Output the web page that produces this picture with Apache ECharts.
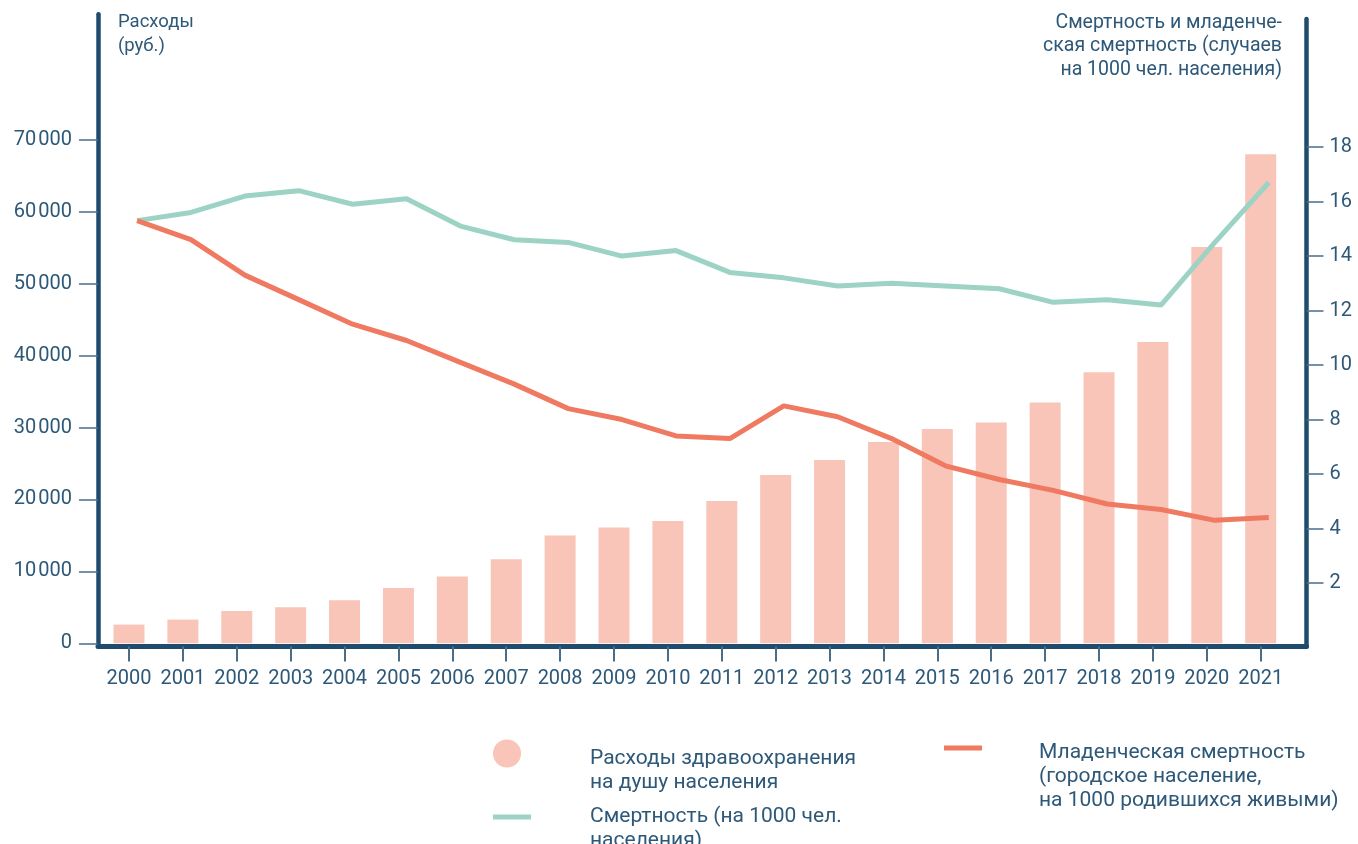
<!DOCTYPE html>
<html>
<head>
<meta charset="utf-8">
<script src="https://cdn.jsdelivr.net/npm/echarts@6/dist/echarts.min.js"></script>
<style>
  html, body { margin: 0; padding: 0; background: #fff; }
  #chart { width: 1358px; height: 844px; }
</style>
</head>
<body>
<div id="chart"></div>
<script>
// years on the x axis
const years = [2000, 2001, 2002, 2003, 2004, 2005, 2006, 2007, 2008, 2009, 2010,
  2011, 2012, 2013, 2014, 2015, 2016, 2017, 2018, 2019, 2020, 2021];

// health spending per capita, rub.
const spending = [2600, 3300, 4500, 5000, 6000, 7700, 9300, 11700, 15000, 16100, 17000,
  19800, 23400, 25500, 28000, 29800, 30700, 33500, 37700, 41900, 55100, 68000];

// mortality, per 1000 people
const mortality = [15.3, 15.6, 16.2, 16.4, 15.9, 16.1, 15.1, 14.6, 14.5, 14.0, 14.2,
  13.4, 13.2, 12.9, 13.0, 12.9, 12.8, 12.3, 12.4, 12.2, 14.5, 16.7];

// infant mortality (urban), per 1000 live births
const infantMortality = [15.3, 14.6, 13.3, 12.4, 11.5, 10.9, 10.1, 9.3, 8.4, 8.0, 7.4,
  7.3, 8.5, 8.1, 7.3, 6.3, 5.8, 5.4, 4.9, 4.7, 4.3, 4.4];

const leftTicks = [0, 10000, 20000, 30000, 40000, 50000, 60000, 70000];
const rightTicks = [2, 4, 6, 8, 10, 12, 14, 16, 18];

const names = {
  spending: 'Расходы здравоохранения на душу населения',
  mortality: 'Смертность (на 1000 чел. населения)',
  infant: 'Младенческая смертность (городское население, на 1000 родившихся живыми)'
};
const legendLines = {};
legendLines[names.spending] = ['Расходы здравоохранения', 'на душу населения'];
legendLines[names.mortality] = ['Смертность (на 1000 чел.', 'населения)'];
legendLines[names.infant] = ['Младенческая смертность', '(городское население,', 'на 1000 родившихся живыми)'];

const navy = '#1f4c6c';
const textColor = '#2d5878';
const tickColor = '#4a6e8a';
const barColor = '#f8c5b8';
const redColor = '#ef7a61';
const greenColor = '#9cd3c4';
const font = 'Roboto, "Liberation Sans", sans-serif';

const xMin = 1999.425, xMax = 2021.85;
const lineShift = 0.15;

// legend text is centred on the icon, so a spacer line pushes the text down
function legendItem(name, left, top, icon, w, h, spacer, padLeft) {
  return {
    data: [name],
    left: left, top: top,
    padding: 0,
    icon: icon,
    itemWidth: w, itemHeight: h,
    selectedMode: false,
    formatter: function (n) {
      return '{sp| }\n' + legendLines[n].map(function (s) { return '{t|' + s + '}'; }).join('\n');
    },
    textStyle: {
      padding: [0, 0, 0, padLeft],
      rich: {
        sp: { fontSize: 1, height: spacer, lineHeight: spacer },
        t: { fontFamily: font, fontSize: 21, color: textColor, lineHeight: 24 }
      }
    }
  };
}

const chart = echarts.init(document.getElementById('chart'), null, { renderer: 'canvas' });

const option = {
  animation: false,
  backgroundColor: '#fff',
  textStyle: { fontFamily: font },
  title: [
    {
      text: 'Расходы\n(руб.)',
      left: 118, top: 11, padding: 0,
      textStyle: { fontFamily: font, fontSize: 18.5, fontWeight: 'normal', color: textColor, lineHeight: 23.5 }
    },
    {
      text: 'Смертность и младенче-\nская смертность (случаев\nна 1000 чел. населения)',
      left: 1282, top: 11, padding: 0, textAlign: 'right',
      textStyle: { fontFamily: font, fontSize: 19.5, fontWeight: 'normal', color: textColor, lineHeight: 23.5 }
    }
  ],
  legend: [
    legendItem(names.spending, 493, 712.5, 'circle', 28, 28, 34, 64),
    legendItem(names.mortality, 493, 781, 'rect', 38, 5, 24, 54),
    legendItem(names.infant, 944, 683, 'rect', 38, 5, 58, 52)
  ],
  grid: [
    { left: 98, right: 51.5, top: 14.3, bottom: 197.5 },
    { left: 98, right: 51.5, top: 19, bottom: 197.5 }
  ],
  xAxis: [
    {
      type: 'value', gridIndex: 0, min: xMin, max: xMax,
      splitLine: { show: false },
      axisLine: { show: true, onZero: false, lineStyle: { color: navy, width: 5 } },
      axisTick: { show: true, customValues: years, length: 15, lineStyle: { color: tickColor, width: 2 } },
      axisLabel: {
        customValues: years, margin: 22,
        formatter: function (v) { return String(v); },
        fontFamily: font, fontSize: 20, color: textColor
      },
      z: 5
    },
    {
      type: 'value', gridIndex: 1, min: xMin - lineShift, max: xMax - lineShift,
      show: false
    }
  ],
  yAxis: [
    {
      type: 'value', gridIndex: 0, position: 'left', min: -445, max: 87480,
      splitLine: { show: false },
      axisLine: { show: true, onZero: false, lineStyle: { color: navy, width: 4.5 } },
      axisTick: { show: true, customValues: leftTicks, length: 19, lineStyle: { color: tickColor, width: 1.5 } },
      axisLabel: {
        customValues: leftTicks, margin: 26,
        formatter: function (v) {
          return v >= 1000 ? Math.floor(v / 1000) + '\u200A' + String(v % 1000).padStart(3, '0') : String(v);
        },
        fontFamily: font, fontSize: 20, color: textColor
      },
      z: 5
    },
    {
      type: 'value', gridIndex: 1, position: 'right', min: -0.33, max: 22.7,
      splitLine: { show: false },
      axisLine: { show: true, onZero: false, lineStyle: { color: navy, width: 4.5 } },
      axisTick: { show: true, customValues: rightTicks, length: 17, lineStyle: { color: tickColor, width: 1.5 } },
      axisLabel: {
        customValues: rightTicks, margin: 23,
        fontFamily: font, fontSize: 20, color: textColor
      },
      z: 5
    }
  ],
  series: [
    {
      name: names.spending,
      type: 'bar',
      xAxisIndex: 0, yAxisIndex: 0,
      barWidth: 31,
      itemStyle: { color: barColor },
      data: years.map(function (y, i) { return [y, spending[i]]; })
    },
    {
      name: names.mortality,
      type: 'line',
      xAxisIndex: 1, yAxisIndex: 1,
      showSymbol: false,
      lineStyle: { color: greenColor, width: 5 },
      itemStyle: { color: greenColor },
      data: years.map(function (y, i) { return [y, mortality[i]]; }),
      z: 3
    },
    {
      name: names.infant,
      type: 'line',
      xAxisIndex: 1, yAxisIndex: 1,
      showSymbol: false,
      lineStyle: { color: redColor, width: 5 },
      itemStyle: { color: redColor },
      data: years.map(function (y, i) { return [y, infantMortality[i]]; }),
      z: 4
    }
  ]
};

chart.setOption(option);
</script>
</body>
</html>
